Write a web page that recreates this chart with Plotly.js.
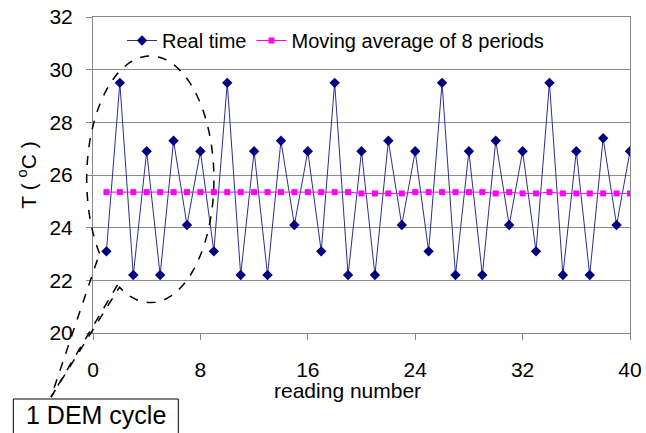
<!DOCTYPE html>
<html>
<head>
<meta charset="utf-8">
<script src="https://cdn.plot.ly/plotly-3.0.1.min.js"></script>
<style>html,body{margin:0;padding:0;background:#fff;}#chart{width:646px;height:433px;}</style>
</head>
<body>
<div id="chart"></div>
<script>
// ---- data ----
const readings = [1,2,3,4,5,6,7,8,9,10,11,12,13,14,15,16,17,18,19,20,21,22,23,24,25,26,27,28,29,30,31,32,33,34,35,36,37,38,39,40];
const realTime = [23.1,29.5,22.2,26.9,22.2,27.3,24.1,26.9,
                  23.1,29.5,22.2,26.9,22.2,27.3,24.1,26.9,
                  23.1,29.5,22.2,26.9,22.2,27.3,24.1,26.9,
                  23.1,29.5,22.2,26.9,22.2,27.3,24.1,26.9,
                  23.1,29.5,22.2,26.9,22.2,27.4,24.1,26.9];
const movingAvg = [25.35,25.35,25.35,25.35,25.35,25.35,25.35,25.35,
                   25.35,25.35,25.35,25.35,25.35,25.35,25.35,25.35,
                   25.35,25.35,25.35,25.3,25.3,25.3,25.3,25.35,
                   25.35,25.35,25.35,25.35,25.35,25.3,25.35,25.3,
                   25.3,25.35,25.3,25.3,25.3,25.3,25.3,25.3];
const xTicks = [0,8,16,24,32,40];
const yTicks = [20,22,24,26,28,30,32];
const seriesNames = ['Real time','Moving average of 8 periods'];
const xTitle = 'reading number';
const yTitle = 'T ( <sup>o</sup>C )';
const calloutText = '1 DEM cycle';

// ---- layout geometry ----
const W = 646, H = 433;
const M = {l:93, r:16, t:17, b:100};
const PW = W - M.l - M.r, PH = H - M.t - M.b;
const px = v => (v - M.l) / PW;          // pixel x -> paper
const py = v => (H - M.b - v) / PH;      // pixel y -> paper

// dashed ellipse callout (decoration) in pixel space
const cx = 150.3, cy = 179.3, ra = 63.6, rb = 123.3;
let d = '';
const a0 = 143, a1 = 481;
for (let a = a0; a <= a1; a += 3) {
  const t = a * Math.PI / 180;
  const X = cx + ra * Math.cos(t), Y = cy + rb * Math.sin(t);
  d += (a === a0 ? 'M' : 'L') + px(X).toFixed(4) + ',' + py(Y).toFixed(4) + ' ';
}
const tEnd = a1 * Math.PI / 180;
const endX = cx + ra * Math.cos(tEnd), endY = cy + rb * Math.sin(tEnd);
const tStart = a0 * Math.PI / 180;
const stX = cx + ra * Math.cos(tStart), stY = cy + rb * Math.sin(tStart);
d += 'L' + px(51).toFixed(4) + ',' + py(397).toFixed(4) + ' ';
d += 'L' + px(stX).toFixed(4) + ',' + py(stY).toFixed(4);

const font = 'Arial, "Liberation Sans", sans-serif';

const traces = [
  {x: readings, y: realTime, name: seriesNames[0], type: 'scatter', mode: 'lines+markers',
   line: {color: '#2e2e8c', width: 1},
   marker: {symbol: 'diamond', size: 8, color: '#000080'}},
  {x: readings, y: movingAvg, name: seriesNames[1], type: 'scatter', mode: 'lines+markers',
   line: {color: '#ff00ff', width: 1},
   marker: {symbol: 'square', size: 6, color: '#ff00ff'}}
];

const layout = {
  width: W, height: H,
  margin: M,
  paper_bgcolor: '#fff', plot_bgcolor: '#fff',
  font: {family: font, color: '#000', size: 21},
  showlegend: true,
  legend: {orientation: 'h', x: px(122), xanchor: 'left', y: py(40.5), yanchor: 'middle',
           bgcolor: 'rgba(0,0,0,0)', font: {size: 20, family: font}, itemgap: 6},
  xaxis: {range: [0, 40], tickvals: xTicks, ticktext: xTicks.map(String),
          showgrid: false, zeroline: false, showline: true, linecolor: '#888', linewidth: 1, mirror: true,
          ticks: 'outside', ticklen: 6, tickcolor: '#888', ticklabelstandoff: 12,
          tickfont: {size: 21, family: font}},
  yaxis: {range: [20, 32], tickvals: yTicks, ticktext: yTicks.map(String),
          showgrid: true, gridcolor: '#8c8c8c', gridwidth: 1, zeroline: false,
          showline: true, linecolor: '#888', linewidth: 1, mirror: true,
          ticks: 'outside', ticklen: 6, tickcolor: '#888', ticklabelstandoff: 9,
          tickfont: {size: 21, family: font},
          title: {text: yTitle, font: {size: 21, family: font}, standoff: 7}},
  shapes: [
    {type: 'path', xref: 'paper', yref: 'paper', path: d,
     line: {color: '#000', width: 1.5, dash: 'dash'}},
    {type: 'line', xref: 'paper', yref: 'paper', x0: px(endX), y0: py(endY), x1: px(51), y1: py(397),
     line: {color: '#000', width: 1.5, dash: 'dash'}},
    {type: 'rect', xref: 'paper', yref: 'paper', x0: px(13.3), x1: px(178.3), y0: py(399), y1: py(445),
     line: {color: '#000', width: 1}, fillcolor: '#fff'}
  ],
  annotations: [
    {xref: 'paper', yref: 'paper', x: px(347), y: py(390), text: xTitle, showarrow: false,
     xanchor: 'center', yanchor: 'middle', font: {size: 21, family: font, color: '#000'}},
    {xref: 'paper', yref: 'paper', x: px(96), y: py(415), text: calloutText, showarrow: false,
     xanchor: 'center', yanchor: 'middle', font: {size: 25, family: font, color: '#000'}}
  ]
};

Plotly.newPlot('chart', traces, layout, {displayModeBar: false, staticPlot: true});
</script>
</body>
</html>
